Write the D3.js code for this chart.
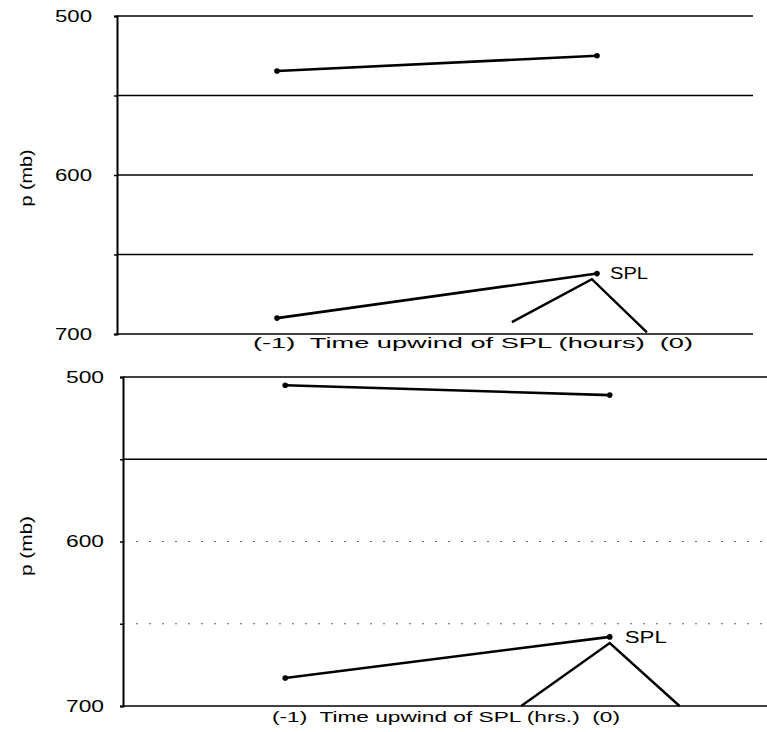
<!DOCTYPE html>
<html><head><meta charset="utf-8">
<script src="https://cdn.jsdelivr.net/npm/d3@7"></script>
<style>body{margin:0;background:#fff}svg{display:block}text{font-family:"Liberation Sans",Arial,sans-serif;fill:#000;white-space:pre}</style>
</head><body><svg id="c" width="767" height="732"></svg>
<script>
// ---- data ----
const pressureTicks = [500, 600, 700];
const gridLevels = [550, 600, 650];
const timeHours = [-1, 0];
const topUpper = [534.6, 525];
const topLower = [690, 662];
const botUpper = [505, 511];
const botLower = [683, 658];
const terrainTopT = [-0.266, -0.016, 0.156];
const terrainTopP = [692.5, 665.5, 699];
const terrainBotT = [-0.273, 0, 0.215];
const terrainBotP = [700, 661.7, 700];
const xTitles = ["(-1)  Time upwind of SPL (hours)  (0)", "(-1)  Time upwind of SPL (hrs.)  (0)"];
const yTitle = "p (mb)";
const markLabel = "SPL";

const svg = d3.select("#c");

const panels = [
  {x0:117, x1:757, clipR:753, y0:16, y1:334, upper:topUpper, lower:topLower, tT:terrainTopT, tP:terrainTopP,
   dotted:[], title:xTitles[0], titleX:473, titleY:348, titleLen:440, tickRight:92, tickLen:37,
   yTitleX:32, yTitleY:178, yTitleLen:57, splDx:13, splLen:38},
  {x0:123, x1:772, clipR:767, y0:377, y1:706, upper:botUpper, lower:botLower, tT:terrainBotT, tP:terrainBotP,
   dotted:[600,650], title:xTitles[1], titleX:446, titleY:722, titleLen:348, tickRight:104, tickLen:38,
   yTitleX:32, yTitleY:546, yTitleLen:60, splDx:15, splLen:42}
];

panels.forEach((pn, i) => {
  const x = d3.scaleLinear().domain([-1.5, 0.5]).range([pn.x0, pn.x1]);
  const y = d3.scaleLinear().domain([500, 700]).range([pn.y0, pn.y1]);
  const g = svg.append("g");
  const clipId = "clip" + i;
  svg.append("clipPath").attr("id", clipId).append("rect")
    .attr("x", pn.x0).attr("y", pn.y0 - 3).attr("width", pn.clipR - pn.x0).attr("height", pn.y1 - pn.y0 + 6);

  // gridlines
  [500, ...gridLevels, 700].forEach(v => {
    const dotted = pn.dotted.includes(v);
    g.append("line").attr("x1", pn.x0).attr("x2", pn.clipR).attr("y1", y(v)).attr("y2", y(v))
      .attr("stroke", dotted ? "#666" : "#000")
      .attr("stroke-width", dotted ? 1 : 1.5)
      .attr("stroke-dasharray", dotted ? "2,11" : null);
  });

  // y axis
  const ax = d3.axisLeft(y).tickValues([500, 550, 600, 650, 700]).tickSize(3).tickFormat("");
  const axg = g.append("g").attr("transform", `translate(${pn.x0},0)`).call(ax);
  axg.select(".domain").attr("stroke-width", 2);
  axg.selectAll(".tick line").attr("stroke-width", 1.5);

  pressureTicks.forEach(v => {
    g.append("text").attr("x", pn.tickRight).attr("y", y(v)).attr("dy", "0.36em")
      .attr("text-anchor", "end").attr("font-size", 16)
      .attr("textLength", pn.tickLen).attr("lengthAdjust", "spacingAndGlyphs").text(v);
  });

  // y title
  g.append("text").attr("transform", `translate(${pn.yTitleX},${pn.yTitleY}) rotate(-90)`)
    .attr("text-anchor", "middle").attr("font-size", 17)
    .attr("textLength", pn.yTitleLen).attr("lengthAdjust", "spacingAndGlyphs").text(yTitle);

  // x title
  g.append("text").attr("x", pn.titleX).attr("y", pn.titleY).attr("text-anchor", "middle")
    .attr("font-size", 15.5).attr("textLength", pn.titleLen).attr("lengthAdjust", "spacingAndGlyphs")
    .text(pn.title);

  const line = d3.line().x(d => x(d[0])).y(d => y(d[1]));
  const dg = g.append("g").attr("clip-path", `url(#${clipId})`);
  [pn.upper, pn.lower].forEach(series => {
    const pts = timeHours.map((t, k) => [t, series[k]]);
    dg.append("path").attr("d", line(pts)).attr("fill", "none").attr("stroke", "#000").attr("stroke-width", 2.6);
    dg.selectAll(null).data(pts).enter().append("circle")
      .attr("cx", d => x(d[0])).attr("cy", d => y(d[1])).attr("r", 2.8).attr("fill", "#000");
  });
  const terr = pn.tT.map((t, k) => [t, pn.tP[k]]);
  dg.append("path").attr("d", line(terr)).attr("fill", "none").attr("stroke", "#000").attr("stroke-width", 2.4);

  g.append("text").attr("x", x(0) + pn.splDx).attr("y", y(pn.lower[1])).attr("dy", "0.36em")
    .attr("font-size", 16).attr("textLength", pn.splLen).attr("lengthAdjust", "spacingAndGlyphs").text(markLabel);
});
</script></body></html>
